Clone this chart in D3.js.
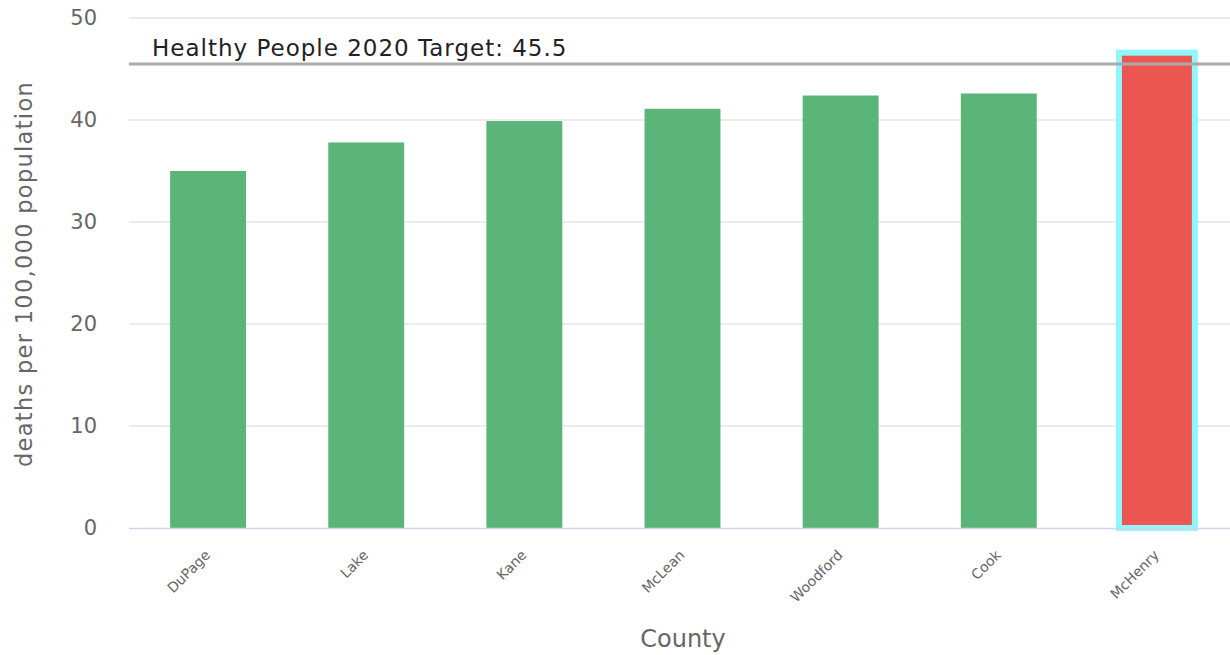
<!DOCTYPE html>
<html><head><meta charset="utf-8">
<script src="https://cdn.jsdelivr.net/npm/d3@7/dist/d3.min.js"></script>
<style>body{margin:0;background:#fff}svg{display:block}</style>
</head><body>
<svg id="c" width="1230" height="655"></svg>
<script>
const categories = ["DuPage","Lake","Kane","McLean","Woodford","Cook","McHenry"];
const values = [35.0, 37.8, 39.9, 41.1, 42.4, 42.6, 46.6];
const highlighted = [false,false,false,false,false,false,true];
const yTicks = [0,10,20,30,40,50];
const targetValue = 45.5;
const targetLabel = "Healthy People 2020 Target: 45.5";
const yTitle = "deaths per 100,000 population";
const xTitle = "County";

(function(){
const font = "'DejaVu Sans', sans-serif";
const svg = d3.select("#c");
const pL = 129, pR = 1236, pT = 18, pB = 528;
const x = d3.scaleBand().domain(categories).range([pL, pR]).paddingInner(0.52).paddingOuter(0.26);
const y = d3.scaleLinear().domain([0, 50]).range([pB, pT]);

// grid
svg.append("g").selectAll("line").data(yTicks.filter(d=>d>0)).join("line")
  .attr("x1", pL).attr("x2", 1230).attr("y1", d=>y(d)).attr("y2", d=>y(d))
  .attr("stroke", "#e6e6e6").attr("stroke-width", 1.5);

// y axis labels
const yAxis = d3.axisLeft(y).tickValues(yTicks).tickSize(0).tickPadding(32);
const ya = svg.append("g").attr("transform", `translate(${pL},0)`).call(yAxis);
ya.select(".domain").remove();
ya.selectAll("text").attr("font-family", font).attr("font-size", 21).attr("fill", "#666");

// bars
svg.append("g").selectAll("rect").data(categories).join("rect")
  .attr("x", d=>x(d)).attr("width", x.bandwidth())
  .attr("y", (d,i)=>y(values[i])).attr("height", (d,i)=>y(0)-y(values[i]))
  .attr("fill", (d,i)=>highlighted[i] ? "#eb5650" : "#5cb578")
  .attr("stroke", (d,i)=>highlighted[i] ? "#8ef6fc" : "none")
  .attr("stroke-width", (d,i)=>highlighted[i] ? 6 : 0);

// x axis line
svg.append("line").attr("x1", pL).attr("x2", 1230).attr("y1", pB+0.5).attr("y2", pB+0.5)
  .attr("stroke", "#ccd6eb").attr("stroke-width", 1.5);

// x labels
const xAxis = d3.axisBottom(x).tickSize(0).tickPadding(0);
const xa = svg.append("g").attr("transform", `translate(0,${pB})`).call(xAxis);
xa.select(".domain").remove();
xa.selectAll("text").attr("font-family", font).attr("font-size", 14).attr("fill", "#666")
  .attr("text-anchor", "end").attr("dy", 0)
  .attr("transform", "translate(3,28) rotate(-45)");

// target line
svg.append("line").attr("x1", pL).attr("x2", 1230).attr("y1", y(targetValue)).attr("y2", y(targetValue))
  .attr("stroke", "#aaaaaa").attr("stroke-width", 3);
svg.append("text").attr("x", 152).attr("y", y(targetValue) - 8)
  .attr("font-family", font).attr("font-size", 23).attr("letter-spacing", 1.0).attr("fill", "#222").text(targetLabel);

// titles
svg.append("text").attr("transform", `translate(32,274) rotate(-90)`)
  .attr("text-anchor", "middle").attr("font-family", font).attr("font-size", 22.5).attr("letter-spacing", 1.3).attr("fill", "#666").text(yTitle);
svg.append("text").attr("x", 683).attr("y", 647).attr("text-anchor", "middle")
  .attr("font-family", font).attr("font-size", 24).attr("fill", "#666").text(xTitle);
})();
</script>
</body></html>
